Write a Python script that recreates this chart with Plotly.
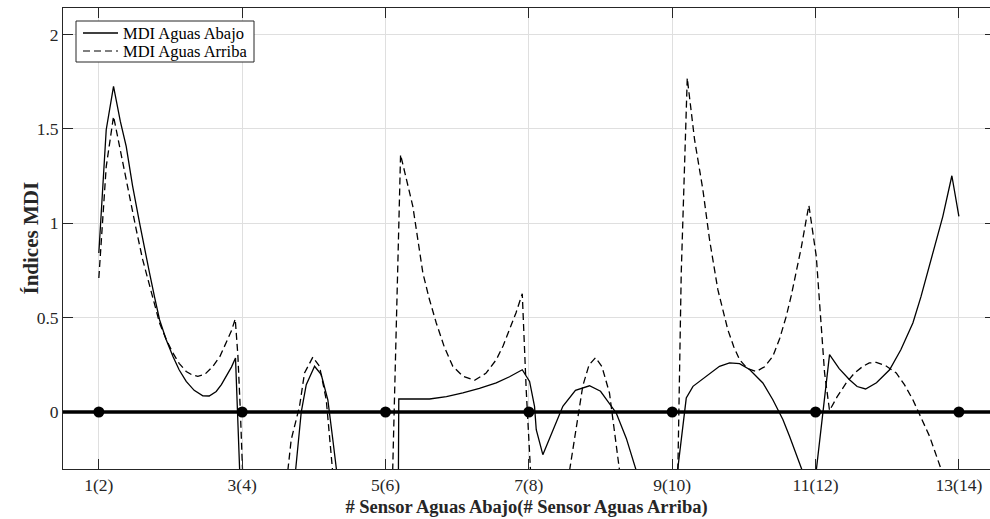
import plotly.graph_objects as go

# ---- data ----
# Solid: MDI Aguas Abajo (None separates branches that leave the visible range)
abajo_x = [1.0, 1.103, 1.205, 1.30, 1.382, 1.47, 1.568, 1.64, 1.707, 1.78, 1.847, 1.94, 2.033, 2.12, 2.219, 2.33, 2.451,
           2.54, 2.638, 2.71, 2.778, 2.85, 2.907, 2.955, 2.965, None,
           3.745, 3.824, 3.894, 4.010, 4.103, 4.195, 4.265, 4.317, None,
           5.18, 5.185, 5.614, 5.85, 6.079, 6.31, 6.545, 6.73, 6.908, 7.010, 7.079, 7.103, 7.195, 7.474, 7.65, 7.846,
           8.0, 8.219, 8.36, 8.498, None,
           9.075, 9.196, 9.29, 9.475, 9.66, 9.80, 9.94, 10.079, 10.265, 10.404, 10.544, 10.637, 10.814, None,
           11.01, 11.195, 11.33, 11.474, 11.58, 11.698, 11.85, 12.033, 12.19, 12.358, 12.47, 12.591, 12.69, 12.776,
           12.902, 13.0]
abajo_y = [0.843, 1.496, 1.726, 1.54, 1.408, 1.20, 1.002, 0.86, 0.737, 0.605, 0.489, 0.383, 0.295, 0.224, 0.162, 0.115,
           0.086, 0.085, 0.109, 0.145, 0.189, 0.238, 0.286, -0.147, -0.31, None,
           -0.31, 0.0, 0.145, 0.242, 0.198, 0.065, -0.147, -0.31, None,
           -0.31, 0.069, 0.069, 0.082, 0.101, 0.125, 0.154, 0.187, 0.224, 0.162, 0.030, -0.094, -0.226, 0.030, 0.115,
           0.139, 0.11, -0.005, -0.14, -0.31, None,
           -0.31, 0.074, 0.136, 0.189, 0.242, 0.260, 0.256, 0.225, 0.154, 0.065, -0.04, -0.129, -0.31, None,
           -0.31, 0.304, 0.23, 0.171, 0.135, 0.122, 0.155, 0.224, 0.33, 0.472, 0.61, 0.78, 0.91, 1.037,
           1.252, 1.037]

# Dashed: MDI Aguas Arriba
arriba_x = [1.0, 1.103, 1.205, 1.335, 1.42, 1.522, 1.61, 1.707, 1.77, 1.847, 1.94, 2.033, 2.12, 2.219, 2.30, 2.381,
            2.48, 2.591, 2.69, 2.778, 2.85, 2.903, 2.94, 2.975, 3.005, None,
            3.637, 3.684, 3.800, 3.870, 3.986, 4.079, 4.173, 4.261, None,
            5.10, 5.17, 5.21, 5.381, 5.45, 5.521, 5.61, 5.708, 5.82, 5.939, 6.08, 6.242, 6.40, 6.545, 6.64, 6.730,
            6.82, 6.908, 6.963, 7.023, None,
            7.568, 7.753, 7.84, 7.93, 8.02, 8.125, 8.265, None,
            9.079, 9.126, 9.21, 9.312, 9.428, 9.521, 9.637, 9.776, 9.86, 9.940, 10.05, 10.173, 10.29, 10.404, 10.50,
            10.591, 10.66, 10.731, 10.80, 10.870, 10.907,
            11.010, 11.080, 11.126, 11.195, 11.30, 11.428, 11.54, 11.660, 11.75, 11.847, 11.98, 12.126, 12.24, 12.358,
            12.47, 12.591, 12.758]
arriba_y = [0.710, 1.30, 1.567, 1.32, 1.15, 0.966, 0.81, 0.666, 0.575, 0.472, 0.385, 0.313, 0.258, 0.215, 0.197, 0.189,
            0.20, 0.242, 0.295, 0.366, 0.43, 0.493, 0.30, 0.0, -0.31, None,
            -0.31, -0.147, 0.03, 0.207, 0.291, 0.242, 0.065, -0.31, None,
            -0.31, 0.85, 1.364, 1.090, 0.91, 0.737, 0.60, 0.472, 0.345, 0.242, 0.19, 0.168, 0.205, 0.277, 0.35, 0.436,
            0.525, 0.627, 0.118, -0.31, None,
            -0.31, 0.139, 0.25, 0.288, 0.24, 0.10, -0.31, None,
            -0.31, 0.737, 1.770, 1.443, 1.178, 0.913, 0.648, 0.436, 0.345, 0.277, 0.23, 0.215, 0.24, 0.295, 0.39,
            0.507, 0.615, 0.737, 0.87, 1.019, 1.095,
            0.825, 0.472, 0.207, 0.008, 0.08, 0.154, 0.205, 0.242, 0.26, 0.263, 0.245, 0.207, 0.145, 0.065,
            -0.025, -0.129, -0.31]

sensor_x = [1, 3, 5, 7, 9, 11, 13]
sensor_y = [0, 0, 0, 0, 0, 0, 0]

x_tick_vals = [1, 3, 5, 7, 9, 11, 13]
x_tick_text = ["1(2)", "3(4)", "5(6)", "7(8)", "9(10)", "11(12)", "13(14)"]
y_tick_vals = [0, 0.5, 1, 1.5, 2]
y_tick_text = ["0", "0.5", "1", "1.5", "2"]
series_names = ["MDI Aguas Abajo", "MDI Aguas Arriba"]

FONT = "Liberation Serif"
AX = "#262626"
GRID = "#dfdfdf"
DASH = "7px,4px"

# plot-area geometry in pixels (for placing the legend box)
L, T, W, H = 63, 8, 927, 461


def px_x(p):
    return (p - L) / W


def px_y(p):
    return (T + H - p) / H


fig = go.Figure()
fig.add_trace(go.Scatter(x=abajo_x, y=abajo_y, mode="lines", name=series_names[0], showlegend=False,
                         line=dict(color="black", width=1.3), connectgaps=False))
fig.add_trace(go.Scatter(x=arriba_x, y=arriba_y, mode="lines", name=series_names[1], showlegend=False,
                         line=dict(color="black", width=1.3, dash=DASH), connectgaps=False))
fig.add_hline(y=0, line=dict(color="black", width=3.5))
fig.add_trace(go.Scatter(x=sensor_x, y=sensor_y, mode="markers", showlegend=False,
                         marker=dict(color="black", size=11)))
fig.add_trace(go.Scatter(x=[None], y=[None], yaxis="y2", showlegend=False, hoverinfo="skip"))

# legend box (drawn like MATLAB's compact legend)
fig.add_shape(type="rect", xref="paper", yref="paper", x0=px_x(76), x1=px_x(254), y0=px_y(62), y1=px_y(21),
              line=dict(color=AX, width=1), fillcolor="white", layer="above")
for i, (name, dash) in enumerate(zip(series_names, ["solid", DASH])):
    yy = px_y(33 + 18 * i)
    fig.add_shape(type="line", xref="paper", yref="paper", x0=px_x(83), x1=px_x(118), y0=yy, y1=yy,
                  line=dict(color="black", width=1.5 if i == 0 else 1.2, dash=dash), layer="above")
    fig.add_annotation(text=name, xref="paper", yref="paper", x=px_x(121), y=yy, xanchor="left",
                       yanchor="middle", showarrow=False,
                       font=dict(family=FONT, size=16.5, color="black"))

# y-axis title
fig.add_annotation(text="<b>Índices MDI</b>", xref="paper", yref="paper", x=px_x(30), y=0.5,
                   xanchor="center", yanchor="middle", textangle=-90, showarrow=False,
                   font=dict(family=FONT, size=21, color=AX))

fig.update_layout(
    width=990, height=519,
    margin=dict(l=L, r=0, t=T, b=519 - T - H),
    paper_bgcolor="white", plot_bgcolor="white",
    font=dict(family=FONT, color=AX, size=17.5),
    showlegend=False,
    xaxis=dict(range=[0.5, 13.434], tickmode="array", tickvals=x_tick_vals, ticktext=x_tick_text,
               showgrid=True, gridcolor=GRID, gridwidth=1, zeroline=False,
               showline=True, linecolor=AX, linewidth=1, mirror="ticks",
               ticks="inside", ticklen=10, tickcolor=AX, tickwidth=1,
               tickfont=dict(family=FONT, size=17.5, color=AX),
               title=dict(text="# Sensor Aguas Abajo(# Sensor Aguas Arriba)",
                          font=dict(family=FONT, size=18.5, color=AX, weight="bold"), standoff=6)),
    yaxis=dict(range=[-0.302, 2.141], tickmode="array", tickvals=y_tick_vals, ticktext=y_tick_text,
               showgrid=True, gridcolor=GRID, gridwidth=1, zeroline=False,
               showline=True, linecolor=AX, linewidth=1,
               ticks="inside", ticklen=10, tickcolor=AX, tickwidth=1,
               tickfont=dict(family=FONT, size=17.5, color=AX)),
    yaxis2=dict(range=[-0.302, 2.141], overlaying="y", side="right", tickmode="array",
                tickvals=y_tick_vals, showticklabels=False, showgrid=False, zeroline=False,
                showline=False, ticks="inside", ticklen=5, tickcolor=AX),
)

fig.write_html("out.html")
